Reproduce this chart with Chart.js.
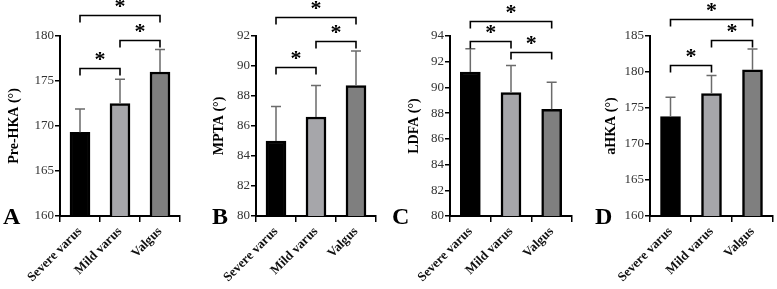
<!DOCTYPE html>
<html>
<head>
<meta charset="utf-8">
<script src="https://cdn.jsdelivr.net/npm/chart.js@4.4.1/dist/chart.umd.min.js"></script>
<style>
  html, body { margin:0; padding:0; background:#fff; }
  #wrap { position:relative; width:777px; height:289px; overflow:hidden; }
  .pane { position:absolute; top:0; height:289px; }
  .letter { position:absolute; font:bold 24px "Liberation Serif", serif; color:#000; line-height:1; }
</style>
</head>
<body>
<div id="wrap">
  <div class="pane" style="left:0;width:195px"><canvas id="cA"></canvas></div>
  <div class="pane" style="left:195px;width:195px"><canvas id="cB"></canvas></div>
  <div class="pane" style="left:390px;width:190px"><canvas id="cC"></canvas></div>
  <div class="pane" style="left:580px;width:197px"><canvas id="cD"></canvas></div>
  <div class="letter" style="left:3px;top:204px">A</div>
  <div class="letter" style="left:212px;top:204px">B</div>
  <div class="letter" style="left:392px;top:204px">C</div>
  <div class="letter" style="left:595px;top:204px">D</div>
</div>
<script>
const groups = ['Severe varus', 'Mild varus', 'Valgus'];
const barColors = ['#000000', '#a6a6aa', '#7f7f7f'];

// mean and SD (upper error bar) per group
const preHkaMean = [169.3, 172.5, 176.0];
const preHkaSd   = [2.6, 2.7, 2.5];
const mptaMean   = [85.0, 86.6, 88.7];
const mptaSd     = [2.3, 2.1, 2.3];
const ldfaMean   = [91.2, 89.6, 88.3];
const ldfaSd     = [1.8, 2.1, 2.1];
const ahkaMean   = [173.8, 177.0, 180.3];
const ahkaSd     = [2.7, 2.5, 2.9];

// significance brackets: [group a, group b, height in axis units]
const preHkaSig = [[0, 1, 176.5], [1, 2, 179.55], [0, 2, 182.3]];
const mptaSig   = [[0, 1, 89.93], [1, 2, 91.67], [0, 2, 93.27]];
const ldfaSig   = [[0, 1, 93.6], [1, 2, 92.75], [0, 2, 95.19]];
const ahkaSig   = [[0, 1, 180.96], [1, 2, 184.4], [0, 2, 187.43]];

const SERIF = '"Liberation Serif", "Times New Roman", serif';

const errorBars = {
  id: 'errorBars',
  afterDatasetsDraw(chart, args, opts) {
    const ctx = chart.ctx, y = chart.scales.y;
    const meta = chart.getDatasetMeta(0);
    ctx.save();
    ctx.strokeStyle = '#6b6b6b';
    ctx.lineWidth = 1.5;
    meta.data.forEach((bar, i) => {
      const top = y.getPixelForValue(opts.mean[i] + opts.sd[i]);
      ctx.beginPath();
      ctx.moveTo(bar.x, bar.y);
      ctx.lineTo(bar.x, top);
      ctx.moveTo(bar.x - 5, top);
      ctx.lineTo(bar.x + 5, top);
      ctx.stroke();
    });
    ctx.restore();
  }
};

const sigBrackets = {
  id: 'sigBrackets',
  afterDraw(chart, args, opts) {
    const ctx = chart.ctx, x = chart.scales.x, y = chart.scales.y;
    ctx.save();
    ctx.strokeStyle = '#000';
    ctx.lineWidth = 1.6;
    ctx.fillStyle = '#000';
    ctx.font = 'bold 22px ' + SERIF;
    ctx.textAlign = 'center';
    ctx.textBaseline = 'alphabetic';
    opts.pairs.forEach(([a, b, lvl]) => {
      const x1 = x.getPixelForValue(a), x2 = x.getPixelForValue(b);
      const yy = Math.round(y.getPixelForValue(lvl)) + 0.5;
      ctx.beginPath();
      ctx.moveTo(x1, yy + 7);
      ctx.lineTo(x1, yy);
      ctx.lineTo(x2, yy);
      ctx.lineTo(x2, yy + 7);
      ctx.stroke();
      ctx.fillText('*', (x1 + x2) / 2, yy - 3);
    });
    ctx.restore();
  }
};

function makePanel(id, title, mean, sd, sig, yMin, yMax, step, leftW, padRight, titlePad) {
  return new Chart(document.getElementById(id), {
    type: 'bar',
    data: {
      labels: groups,
      datasets: [{
        data: mean,
        backgroundColor: barColors,
        borderColor: '#000',
        borderWidth: 2.5,
        borderSkipped: false,
        barThickness: 20
      }]
    },
    options: {
      responsive: true,
      maintainAspectRatio: false,
      animation: false,
      layout: { padding: { top: 36, right: padRight, left: 0, bottom: 0 } },
      plugins: {
        legend: { display: false },
        tooltip: { enabled: false },
        errorBars: { mean: mean, sd: sd },
        sigBrackets: { pairs: sig }
      },
      scales: {
        x: {
          grid: { display: true, drawOnChartArea: false, drawTicks: true, tickLength: 6, color: '#000', lineWidth: 1.5 },
          border: { display: true, color: '#000', width: 2 },
          ticks: { color: '#111', font: { family: SERIF, size: 13, weight: 'bold' }, minRotation: 45, maxRotation: 45, padding: 2 },
          afterFit(s) { s.height = 73; }
        },
        y: {
          min: yMin, max: yMax,
          grid: { display: true, drawOnChartArea: false, drawTicks: true, tickLength: 5, color: '#000', lineWidth: 1.5 },
          border: { display: true, color: '#000', width: 2 },
          ticks: { stepSize: step, color: '#333', font: { family: SERIF, size: 13 }, padding: 1 },
          title: { display: true, text: title, color: '#000', font: { family: SERIF, size: 14, weight: 'bold' }, padding: { top: titlePad, bottom: 0 } },
          afterFit(s) { s.width = leftW; }
        }
      }
    },
    plugins: [errorBars, sigBrackets]
  });
}

makePanel('cA', 'Pre-HKA (°)', preHkaMean, preHkaSd, preHkaSig, 160, 180, 5, 60, 15, 6);
makePanel('cB', 'MPTA (°)', mptaMean, mptaSd, mptaSig, 80, 92, 2, 61, 14, 16);
makePanel('cC', 'LDFA (°)', ldfaMean, ldfaSd, ldfaSig, 80, 94, 2, 60, 8, 16);
makePanel('cD', 'aHKA (°)', ahkaMean, ahkaSd, ahkaSig, 160, 185, 5, 70, 4, 23);
</script>
</body>
</html>
